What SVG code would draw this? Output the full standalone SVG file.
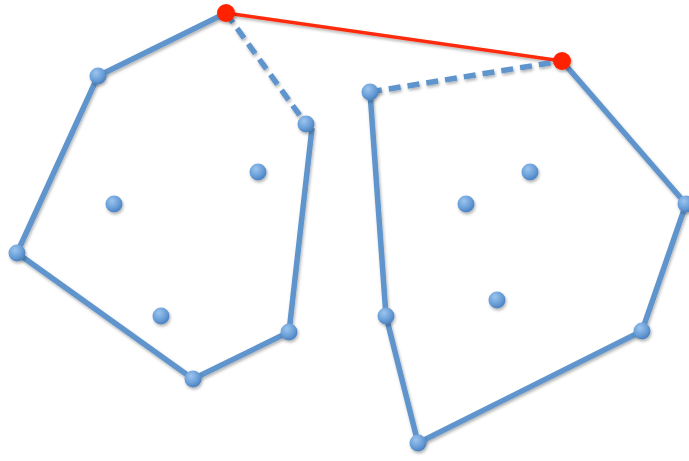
<svg xmlns="http://www.w3.org/2000/svg" width="689" height="461" viewBox="0 0 689 461">
<defs>
<radialGradient id="g" cx="0.38" cy="0.32" r="0.7">
<stop offset="0" stop-color="#9cc4ee"/>
<stop offset="0.6" stop-color="#6a9fd8"/>
<stop offset="1" stop-color="#4a7fbe"/>
</radialGradient>
<filter id="sh" x="-20%" y="-20%" width="140%" height="140%">
<feDropShadow dx="1" dy="2" stdDeviation="1.5" flood-color="#000" flood-opacity="0.3"/>
</filter>
</defs>
<style>
.e{stroke:#5e95cc;stroke-width:5.5;fill:none;stroke-linecap:butt;stroke-linejoin:round}
.d{stroke-dasharray:12 7}
.r{stroke:#fe2a0a;stroke-width:3.5;fill:none}
.p{fill:url(#g)}
.rp{fill:#fe2200}
</style>
<g id="connectors" filter="url(#sh)">
<polyline class="e" points="226,13 98,76 17,253 193,379 289,332 312,128"/>
<line class="e d" x1="226" y1="13" x2="306" y2="124"/>
<polyline class="e" points="370,92 386,316 418,443 642,331 686,204 562,61"/>
<line class="e d" x1="370" y1="92" x2="562" y2="61"/>
<line class="r" x1="226" y1="13" x2="562" y2="61"/>
</g>
<g filter="url(#sh)">
<g id="a1"><circle class="p" cx="98" cy="76" r="8.5"/></g>
<g id="a2"><circle class="p" cx="17" cy="253" r="8.5"/></g>
<g id="a3"><circle class="p" cx="193" cy="379" r="8.5"/></g>
<g id="a4"><circle class="p" cx="289" cy="332" r="8.5"/></g>
<g id="a5"><circle class="p" cx="306" cy="124" r="8.5"/></g>
<g id="a6"><circle class="p" cx="114" cy="204" r="8.5"/></g>
<g id="a7"><circle class="p" cx="258" cy="172" r="8.5"/></g>
<g id="a8"><circle class="p" cx="161" cy="316" r="8.5"/></g>
<g id="b1"><circle class="p" cx="370" cy="92" r="8.5"/></g>
<g id="b2"><circle class="p" cx="386" cy="316" r="8.5"/></g>
<g id="b3"><circle class="p" cx="418" cy="443" r="8.5"/></g>
<g id="b4"><circle class="p" cx="642" cy="331" r="8.5"/></g>
<g id="b5"><circle class="p" cx="686" cy="204" r="8.5"/></g>
<g id="b6"><circle class="p" cx="530" cy="172" r="8.5"/></g>
<g id="b7"><circle class="p" cx="466" cy="204" r="8.5"/></g>
<g id="b8"><circle class="p" cx="497" cy="300" r="8.5"/></g>
<g id="ra"><circle class="rp" cx="226" cy="13" r="9"/></g>
<g id="rb"><circle class="rp" cx="562" cy="61" r="9"/></g>
</g>
</svg>
